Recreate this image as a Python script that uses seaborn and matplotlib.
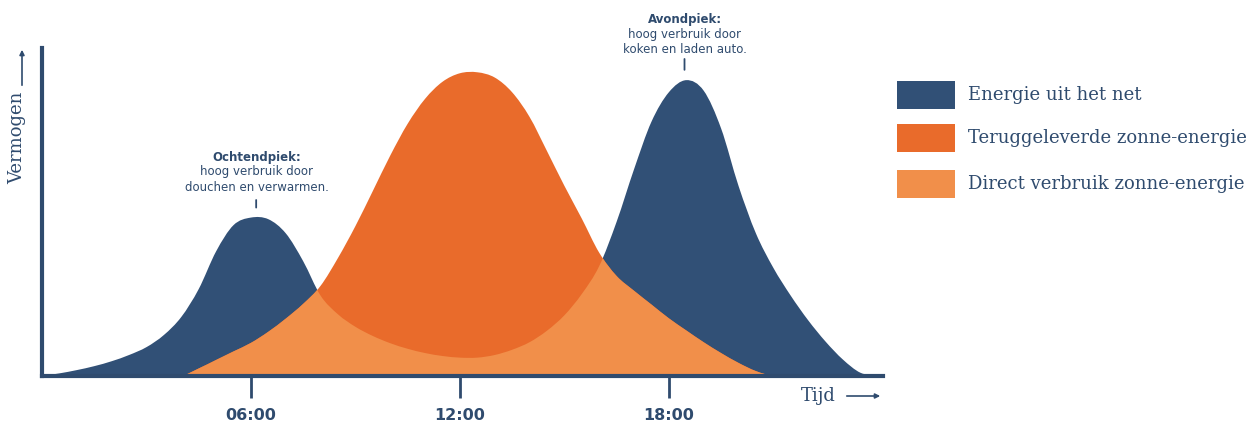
import matplotlib
matplotlib.use("Agg")
import matplotlib.pyplot as plt
import matplotlib.patches as mpatches
from matplotlib.path import Path
import seaborn as sns
import numpy as np
import pandas as pd

# time of day (hours) and relative power
uren = [0, 0.5, 1, 1.5, 2, 2.5, 3, 3.5, 4, 4.5, 5, 5.5, 6, 6.5, 7, 7.5, 8, 8.5,
        9, 9.5, 10, 10.5, 11, 11.5, 12, 12.5, 13, 13.5, 14, 14.5, 15, 15.5, 16,
        16.5, 17, 17.5, 18, 18.5, 19, 19.5, 20, 20.5, 21, 21.5, 22, 22.5, 23,
        23.5, 24]
verbruik = [0, 0.8, 1.8, 3.0, 4.5, 6.4, 8.8, 12.5, 18.0, 26.5, 38.0, 46.0, 48.3,
            47.8, 43.5, 35.0, 24.5, 18.8, 15.0, 12.2, 10.0, 8.3, 7.0, 6.1, 5.6,
            5.6, 6.4, 8.0, 10.3, 13.8, 18.5, 25.0, 33.5, 47.0, 63.0, 77.5, 86.5,
            90.2, 87.0, 75.5, 58.0, 43.5, 33.0, 24.5, 17.0, 10.5, 5.0, 1.0, 0]
zon = [0, 0, 0, 0, 0, 0, 0, 0, 0, 2.3, 4.9, 7.5, 10.1, 13.5, 17.5, 22.0, 27.5,
       36.0, 45.7, 56.4, 67.2, 76.9, 84.5, 89.7, 92.3, 92.6, 91.0, 86.5, 79.0,
       68.6, 58.0, 48.0, 37.6, 30.5, 26.0, 21.8, 17.6, 13.9, 10.3, 7.0, 4.0, 1.5,
       0, 0, 0, 0, 0, 0, 0]

tick_uren = [6, 12, 18]
tick_labels = ["06:00", "12:00", "18:00"]
legend_labels = ["Energie uit het net", "Teruggeleverde zonne-energie",
                 "Direct verbruik zonne-energie"]

BLAUW = "#315076"
DONKERORANJE = "#e96b2b"
LICHTORANJE = "#f18f4a"
TEKST = "#2f4b6e"

df = pd.DataFrame({"uur": uren, "verbruik": verbruik, "zon": zon})


def vlak(xs, ys):
    # closed area under the points, drawn as a smooth bezier through them
    pts = np.column_stack([xs, ys]).astype(float)
    n = len(pts)
    verts = [pts[0]]
    codes = [Path.MOVETO]
    for i in range(n - 1):
        p0 = pts[max(i - 1, 0)]
        p1 = pts[i]
        p2 = pts[i + 1]
        p3 = pts[min(i + 2, n - 1)]
        verts += [p1 + (p2 - p0) / 6, p2 - (p3 - p1) / 6, p2]
        codes += [Path.CURVE4] * 3
    verts.append(pts[0])
    codes.append(Path.CLOSEPOLY)
    return Path(verts, codes)


sns.set_theme(style="white")
plt.rcParams["font.family"] = ["DejaVu Sans"]

fig = plt.figure(figsize=(12.52, 4.25), dpi=100)
ax = fig.add_axes([42 / 1252, 49 / 425, 841 / 1252, 328 / 425])

# grid energy = consumption area, surplus = solar area on top,
# direct use = solar area clipped to the consumption area
net = mpatches.PathPatch(vlak(df["uur"], df["verbruik"]), facecolor=BLAUW, lw=0,
                         transform=ax.transData)
terug = mpatches.PathPatch(vlak(df["uur"], df["zon"]), facecolor=DONKERORANJE, lw=0,
                           transform=ax.transData)
direct = mpatches.PathPatch(vlak(df["uur"], df["zon"]), facecolor=LICHTORANJE, lw=0,
                            transform=ax.transData)
ax.add_patch(net)
ax.add_patch(terug)
ax.add_patch(direct)
direct.set_clip_path(net)

ax.set_xlim(0, 24.15)
ax.set_ylim(0, 100)
sns.despine(ax=ax)
for s in ["left", "bottom"]:
    ax.spines[s].set_color(TEKST)
    ax.spines[s].set_linewidth(3)
    ax.spines[s].set_zorder(5)
ax.set_xticks(tick_uren)
ax.set_xticklabels(tick_labels, fontsize=11.5, fontweight="bold", color=TEKST)
ax.tick_params(axis="x", length=16, width=2, color=TEKST, pad=7, direction="out", bottom=True)
ax.set_yticks([])
ax.set_xlabel("")
ax.set_ylabel("")

# annotations
ax.annotate("", xy=(6.15, 50.5), xytext=(6.15, 54.5),
            arrowprops=dict(arrowstyle="-", color=TEKST, lw=1.3))
fig.text(257 / 1252, 1 - 157 / 425, "Ochtendpiek:", ha="center", va="center",
         fontsize=8.5, fontweight="bold", color=TEKST)
fig.text(257 / 1252, 1 - 179.5 / 425, "hoog verbruik door\ndouchen en verwarmen.",
         ha="center", va="center", fontsize=8.5, color=TEKST, linespacing=1.25)

ax.annotate("", xy=(18.45, 92.5), xytext=(18.45, 97.5),
            arrowprops=dict(arrowstyle="-", color=TEKST, lw=1.3))
fig.text(685 / 1252, 1 - 19 / 425, "Avondpiek:", ha="center", va="center",
         fontsize=8.5, fontweight="bold", color=TEKST)
fig.text(685 / 1252, 1 - 42 / 425, "hoog verbruik door\nkoken en laden auto.",
         ha="center", va="center", fontsize=8.5, color=TEKST, linespacing=1.25)

# axis names with arrows
fig.text(818 / 1252, 1 - 396 / 425, "Tijd", ha="center", va="center",
         fontsize=13, family="DejaVu Serif", color=TEKST)
fig.add_artist(mpatches.FancyArrowPatch((844 / 1252, 1 - 396 / 425), (883 / 1252, 1 - 396 / 425),
                                        transform=fig.transFigure, arrowstyle="-|>",
                                        mutation_scale=7, color=TEKST, lw=1.2))
fig.text(17 / 1252, 1 - 138 / 425, "Vermogen", ha="center", va="center", rotation=90,
         fontsize=13, family="DejaVu Serif", color=TEKST)
fig.add_artist(mpatches.FancyArrowPatch((22 / 1252, 1 - 88 / 425), (22 / 1252, 1 - 47 / 425),
                                        transform=fig.transFigure, arrowstyle="-|>",
                                        mutation_scale=7, color=TEKST, lw=1.2))

# legend
for i, (lab, col) in enumerate(zip(legend_labels, [BLAUW, DONKERORANJE, LICHTORANJE])):
    yc = [95, 138, 184][i]
    fig.add_artist(mpatches.Rectangle((897 / 1252, 1 - (yc + 14) / 425), 58 / 1252, 28 / 425,
                                      transform=fig.transFigure, color=col, lw=0))
    fig.text(968 / 1252, 1 - yc / 425, lab, ha="left", va="center", fontsize=13,
             family="DejaVu Serif", color=TEKST)

fig.savefig("out.png", dpi=100)
